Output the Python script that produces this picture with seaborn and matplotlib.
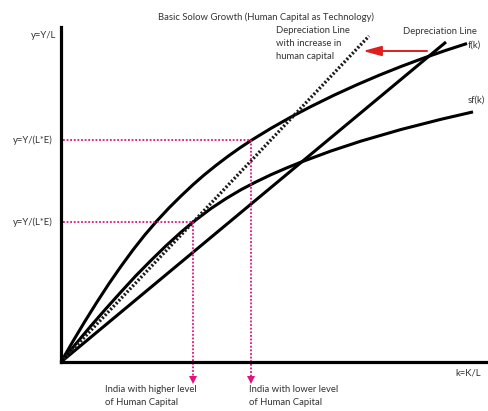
import matplotlib
matplotlib.use("Agg")
import matplotlib.pyplot as plt
import seaborn as sns
import pandas as pd

# ---- data (arbitrary units) ----
f_k_x = [0, 12, 24, 36, 48, 60, 72, 84, 96, 108, 120, 132, 143, 155, 167, 179,
         191, 210, 230, 250, 273, 296, 318, 340, 362, 385, 406]
f_k_y = [0, 20.8, 40.8, 60.0, 78.4, 95.7, 112.1, 127.3, 141.2, 154.1, 166.0, 177.3,
         186.9, 196.6, 205.7, 214.2, 222.1, 233.7, 245.0, 255.5, 266.8, 277.3,
         286.7, 295.5, 303.7, 311.7, 318.5]

sf_k_x = [0, 15, 30, 45, 60, 75, 90, 105, 120, 132, 150, 165, 180, 195, 210, 225,
          240, 270, 300, 340, 380, 412]
sf_k_y = [0, 18.3, 36.2, 53.4, 70.1, 86.4, 101.6, 116.2, 129.8, 139.9, 153.5, 163.4,
          172.3, 180.1, 187.3, 193.8, 199.9, 211.0, 220.9, 232.5, 242.7, 250.1]

dep_x = [0, 385]
dep_y = [0, 320]

dep_hc_x = [0, 308]
dep_hc_y = [0, 326]

# steady-state guide points
guide_low_k, guide_low_y = 190, 222    # lower human capital
guide_high_k, guide_high_y = 132, 140  # higher human capital

title = "Basic Solow Growth (Human Capital as Technology)"
y_label = "y=Y/L"
x_label = "k=K/L"
y_tick_label = "y=Y/(L*E)"

# ---- figure ----
sns.set_theme(style="white")
plt.rcParams['font.family'] = ['Lato', 'DejaVu Sans']
W, H = 488, 411
fig = plt.figure(figsize=(W / 100, H / 100), dpi=100)
fig.patch.set_facecolor("white")
x0, y0, x1, y1 = 61, 362, 488, 27
ax = fig.add_axes([x0 / W, (H - y0) / H, (x1 - x0) / W, (y0 - y1) / H])
ax.set_xlim(0, x1 - x0)
ax.set_ylim(0, y0 - y1)
ax.set_facecolor("white")
for s in ["top", "right"]:
    ax.spines[s].set_visible(False)
for s in ["left", "bottom"]:
    ax.spines[s].set_linewidth(2.3)
    ax.spines[s].set_color("black")
ax.set_xticks([])
ax.set_yticks([])

curve_kw = dict(color="black", linewidth=2.2, ax=ax, legend=False, sort=False)
sns.lineplot(data=pd.DataFrame({"k": f_k_x, "y": f_k_y}), x="k", y="y", **curve_kw)
sns.lineplot(data=pd.DataFrame({"k": sf_k_x, "y": sf_k_y}), x="k", y="y", **curve_kw)
sns.lineplot(data=pd.DataFrame({"k": dep_x, "y": dep_y}), x="k", y="y", **curve_kw)
for l in ax.lines:
    l.set_solid_capstyle("butt")
    l.set_solid_joinstyle("round")
    l.set_clip_on(False)
sns.lineplot(data=pd.DataFrame({"k": dep_hc_x, "y": dep_hc_y}), x="k", y="y",
             sort=False, color="#1a1a1a", linewidth=2.4, ax=ax, legend=False)
ax.lines[-1].set_linestyle((0, (0.6, 0.6)))
ax.lines[-1].set_clip_on(False)

# ---- red guide lines ----
pink = "#e2137a"
for gk, gy in [(guide_low_k, guide_low_y), (guide_high_k, guide_high_y)]:
    ax.plot([1.5, gk], [gy, gy], color=pink, lw=1.3, ls=(0, (1, 1)), clip_on=False)
    ax.plot([gk, gk], [gy, -16], color=pink, lw=1.3, ls=(0, (1, 1)), clip_on=False)
    ax.plot([gk], [-17.5], marker="v", color=pink, markersize=5.5,
            markeredgewidth=0, clip_on=False)

# red arrow near top
ax.annotate("", xy=(302, 311), xytext=(366, 311),
            arrowprops=dict(arrowstyle="-|>,head_length=1.1,head_width=0.3",
                            color="#e01e1e", lw=1.4, mutation_scale=10,
                            shrinkA=0, shrinkB=0),
            annotation_clip=False)

# ---- text ----
tc = "#333333"
fs = 6.8
tkw = dict(fontsize=fs, color=tc, clip_on=False)
ax.text(205, 345, title, ha="center", va="center", **tkw)
ax.text(-5, 327, y_label, ha="right", va="center", **tkw)
ax.text(-8, guide_low_y, y_tick_label, ha="right", va="center", **tkw)
ax.text(-8, guide_high_y, y_tick_label, ha="right", va="center", **tkw)
ax.text(215, 336, "Depreciation Line\nwith increase in\nhuman capital",
        ha="left", va="top", linespacing=1.55, **tkw)
ax.text(342, 330, "Depreciation Line", ha="left", va="center", **tkw)
ax.text(407, 317, "f(k)", ha="left", va="center", **tkw)
ax.text(407, 262, "sf(k)", ha="left", va="center", **tkw)
ax.text(394, -11, x_label, ha="left", va="center", **tkw)
ax.text(44, -23, "India with higher level\nof Human Capital",
        ha="left", va="top", linespacing=1.55, **tkw)
ax.text(188, -23, "India with lower level\nof Human Capital",
        ha="left", va="top", linespacing=1.55, **tkw)

fig.savefig("out.png", dpi=100, facecolor="white")
